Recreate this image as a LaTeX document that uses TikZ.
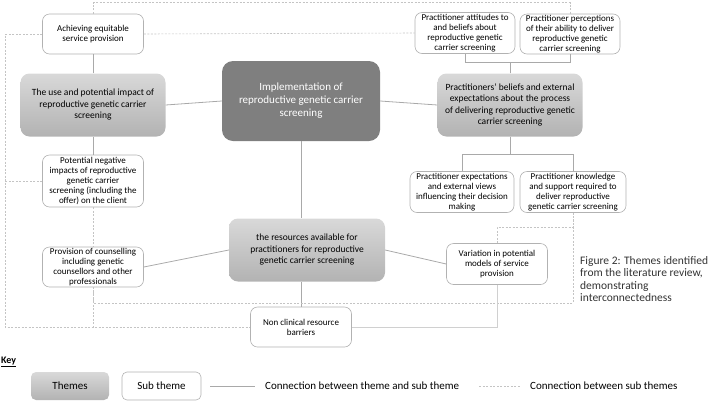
\documentclass[tikz,border=0pt]{standalone}
\usepackage{fontspec}
\setmainfont{Carlito}
\usetikzlibrary{positioning}

\definecolor{themegray}{HTML}{7F7F7F}
\definecolor{linkgray}{HTML}{A9A9A9}
\definecolor{dashgray}{HTML}{C4C4C4}
\definecolor{boxline}{HTML}{B2B2B2}

\begin{document}
\begin{tikzpicture}[x=1pt, y=-1pt,
      theme/.style={rounded corners=9pt, top color=black!15, bottom color=black!30,
         align=center, inner sep=1pt, minimum width=145pt, minimum height=63pt,
         font=\fontsize{9.5}{11.5}\selectfont},
      maintheme/.style={rounded corners=11pt, fill=themegray, text=white,
         align=center, minimum width=158pt, minimum height=80pt,
         font=\fontsize{11}{13}\selectfont},
      subtheme/.style={draw=boxline, rounded corners=7pt, fill=white, line width=0.6pt,
         align=center, inner sep=1pt, minimum width=101pt, minimum height=40pt,
         font=\fontsize{9}{10}\selectfont},
      link/.style={draw=linkgray, line width=0.8pt},
      crosslink/.style={draw=dashgray, line width=0.6pt, dash pattern=on 2pt off 1.5pt},
      faintlink/.style={draw=dashgray!80, line width=0.6pt},
      keytext/.style={font=\fontsize{11}{13}\selectfont, inner sep=1pt}]

      \useasboundingbox (0,0) rectangle (709,400);

      % themes
      \node [maintheme] (main) at (301,101) {Implementation of\\reproductive genetic carrier\\screening};

      \node [theme] (use) at (93,105) {The use and potential impact of\\reproductive genetic carrier\\screening};

      \node [theme] (beliefs) at (510,105) {Practitioners' beliefs and external\\expectations about the process\\of delivering reproductive genetic\\carrier screening};

      \node [theme, minimum width=156pt] (resources) at (307,250) {the resources available for\\practitioners for reproductive\\genetic carrier screening};

      % sub themes
      \node [subtheme] (achieve) at (93,34) {Achieving equitable\\service provision};

      \node [subtheme, minimum height=52pt] (negative) at (93,181) {Potential negative\\impacts of reproductive\\genetic carrier\\screening (including the\\offer) on the client};

      \node [subtheme] (counsel) at (93,267) {Provision of counselling\\including genetic\\counsellors and other\\professionals};

      \node [subtheme] (nonclin) at (301,327) {Non clinical resource\\barriers};

      \node [subtheme, minimum height=41pt] (variation) at (497,264) {Variation in potential\\models of service\\provision};

      \node [subtheme, minimum width=100pt, minimum height=41pt] (attitudes) at (465,33) {Practitioner attitudes to\\and beliefs about\\reproductive genetic\\carrier screening};

      \node [subtheme, minimum width=100pt] (perceptions) at (570,34) {Practitioner perceptions\\of their ability to deliver\\reproductive genetic\\carrier screening};

      \node [subtheme, minimum width=104pt, minimum height=41pt] (expectations) at (462,192) {Practitioner expectations\\and external views\\influencing their decision\\making};

      \node [subtheme, minimum width=106pt, minimum height=41pt] (knowledge) at (573,192) {Practitioner knowledge\\and support required to\\deliver reproductive\\genetic carrier screening};

      % theme to sub theme
      \draw [link] (main.west) -- (use.east);
      \draw [link] (main.east) -- (beliefs.west);
      \draw [link] (main.south) -- (main.south |- resources.north);

      \draw [link] (use.north) -- (achieve.south);
      \draw [link] (use.south) -- (negative.north);

      \draw [link] (beliefs.north) -- ++ (0,-11) -| (attitudes.south);
      \draw [link] (beliefs.north) -- ++ (0,-11) -| (perceptions.south);
      \draw [link] (beliefs.south) -- ++ (0,18) -| (expectations.north);
      \draw [link] (beliefs.south) -- ++ (0,18) -| (knowledge.north);

      \draw [link] (resources.west) -- (counsel.east);
      \draw [link] (resources.east) -- (variation.west);
      \draw [link] (nonclin.north |- resources.south) -- (nonclin.north);

      % sub theme to sub theme
      \draw [crosslink] (achieve.north) -- ++ (0,-11) -| (perceptions.north);
      \draw [crosslink] (achieve.east) -- (attitudes.west);
      \draw [crosslink] (achieve.west) -- ++ (-37,0) |- (nonclin.west);
      \draw [crosslink] (negative.west) -- ++ (-37,0);
      \draw [crosslink] (negative.south) -- (counsel.north);
      \draw [crosslink] (counsel.south) -- (counsel.south |- nonclin.west);
      \draw [crosslink] (knowledge.south) -- ++ (0,90) -| (counsel.south);
      \draw [crosslink] (variation.north) -- ++ (0,-16) -| (knowledge.south);
      \draw [faintlink] (nonclin.east) -| (variation.south);

      % caption
      \node [keytext, anchor=north west, align=left, text=black!80,
         font=\fontsize{11.5}{12.5}\selectfont] (caption) at (579,255)
         {Figure 2: Themes identified\\from the literature review,\\demonstrating\\interconnectedness};

      % key
      \node [keytext, anchor=west, font=\fontsize{10}{12}\bfseries] (keyhead) at (0,362) {\underline{Key}};

      \node [theme, minimum width=78pt, minimum height=28pt, rounded corners=5pt,
         font=\fontsize{11}{13}\selectfont] (keytheme) at (70,386) {Themes};

      \node [subtheme, minimum width=79pt, minimum height=28pt, rounded corners=5pt,
         font=\fontsize{11}{13}\selectfont] (keysub) at (161.5,386) {Sub theme};

      \node [keytext, anchor=west] (keylink) at (264,386) {Connection between theme and sub theme};

      \node [keytext, anchor=west] (keycross) at (529,386) {Connection between sub themes};

      \draw [link, shorten <=9pt, shorten >=9pt] (keysub.east) -- (keylink.west);
      \draw [crosslink, shorten <=19pt, shorten >=9pt] (keylink.east) -- (keycross.west);

   \end{tikzpicture}
\end{document}
